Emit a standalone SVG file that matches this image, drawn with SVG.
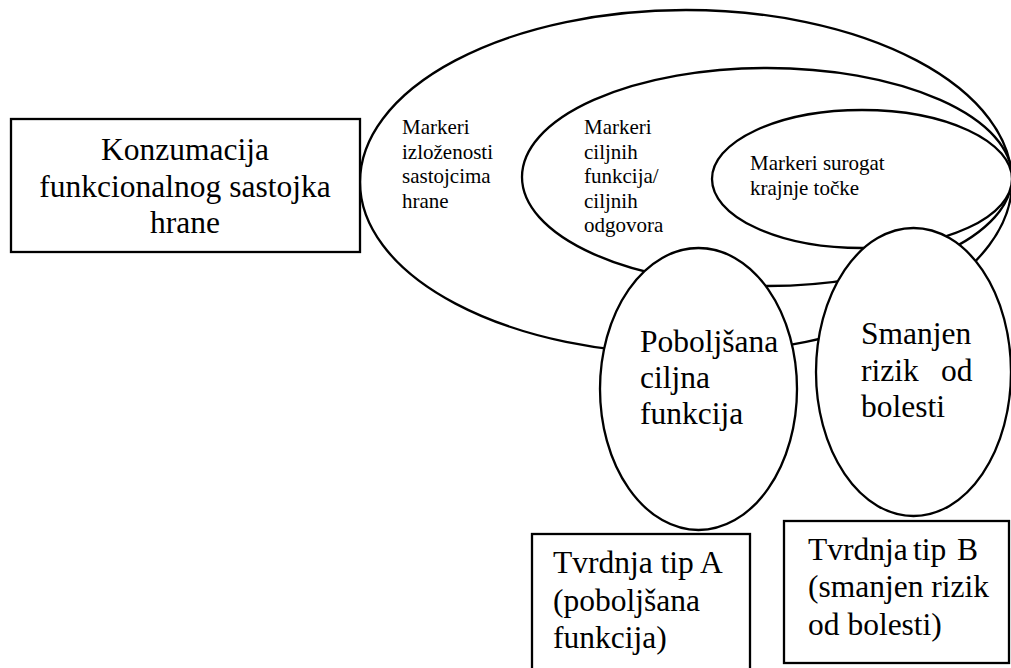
<svg xmlns="http://www.w3.org/2000/svg" width="1011" height="668" viewBox="0 0 1011 668" font-family="'Liberation Serif', 'Times New Roman', serif">
<style>
.s{fill:#fff;stroke:#000;stroke-width:2.3}
text{font-family:'Liberation Serif','Times New Roman',serif;fill:#000}
.L{font-size:31.5px}
.m{font-size:21px}
</style>
<rect width="1011" height="668" fill="#fff"/>
<g id="outer-ellipse">
<ellipse class="s" cx="686" cy="182" rx="326" ry="172"/>
<text class="m" x="402" y="134">Markeri</text>
<text class="m" x="402" y="159">izloženosti</text>
<text class="m" x="402" y="183">sastojcima</text>
<text class="m" x="402" y="208">hrane</text>
</g>
<g id="middle-ellipse">
<ellipse class="s" cx="767" cy="177" rx="245" ry="109"/>
<text class="m" x="584" y="134">Markeri</text>
<text class="m" x="584" y="159">ciljnih</text>
<text class="m" x="584" y="183">funkcija/</text>
<text class="m" x="584" y="208">ciljnih</text>
<text class="m" x="584" y="232">odgovora</text>
</g>
<g id="inner-ellipse">
<ellipse class="s" cx="862" cy="179" rx="150" ry="69"/>
<text class="m" x="750" y="170">Markeri surogat</text>
<text class="m" x="750" y="195">krajnje točke</text>
</g>
<g id="consumption">
<rect class="s" x="11" y="119" width="349" height="133"/>
<text class="L" x="185" y="160" text-anchor="middle">Konzumacija</text>
<text class="L" x="185" y="197" text-anchor="middle">funkcionalnog sastojka</text>
<text class="L" x="185" y="233" text-anchor="middle">hrane</text>
</g>
<g id="improved-function">
<ellipse class="s" cx="698.5" cy="389" rx="98.5" ry="141"/>
<text class="L" x="640" y="352">Poboljšana</text>
<text class="L" x="640" y="388">ciljna</text>
<text class="L" x="640" y="424">funkcija</text>
</g>
<g id="reduced-risk">
<ellipse class="s" cx="913.5" cy="372" rx="97.5" ry="144"/>
<text class="L" x="861" y="344">Smanjen</text>
<text class="L" y="380.5"><tspan x="861">rizik</tspan><tspan x="941">od</tspan></text>
<text class="L" x="861" y="416.5">bolesti</text>
</g>
<g id="claim-a">
<rect class="s" x="532" y="534" width="218" height="140"/>
<text class="L" x="553" y="573">Tvrdnja tip A</text>
<text class="L" x="553" y="611">(poboljšana</text>
<text class="L" x="553" y="648">funkcija)</text>
</g>
<g id="claim-b">
<rect class="s" x="784" y="521" width="225" height="142"/>
<text class="L" y="560"><tspan x="808">Tvrdnja</tspan><tspan x="913">tip</tspan><tspan x="957">B</tspan></text>
<text class="L" x="808" y="597">(smanjen rizik</text>
<text class="L" x="808" y="635">od bolesti)</text>
</g>
<g id="connectors"></g>
</svg>
